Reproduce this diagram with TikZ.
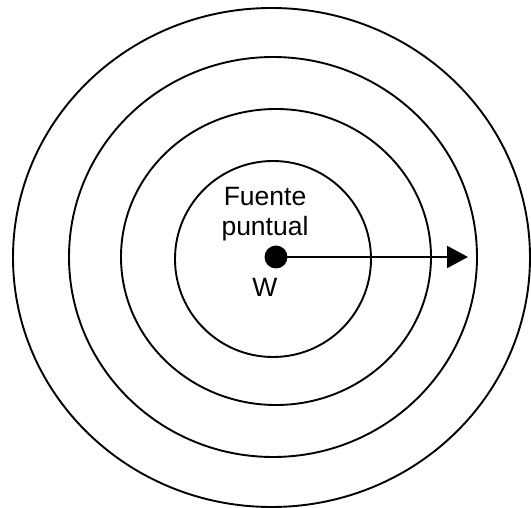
\documentclass[tikz,border=0pt]{standalone}
\usepackage{fontspec}
\setmainfont{Liberation Sans}
\usepackage{tikz}
\usetikzlibrary{arrows.meta}

\tikzset{
  wave/.style={line width=1.9pt},
  source/.style={circle,fill=black,inner sep=0pt,minimum size=23pt},
  lbl/.style={inner sep=0pt,align=center,font=\fontsize{26.5}{30}\selectfont},
  ray/.style={line width=2.1pt,-{Triangle[length=21pt,width=22pt]}}
}

\begin{document}
\begin{tikzpicture}[x=1pt,y=-1pt]

        % Frame
        \useasboundingbox (0,0) rectangle (531,508);

        % Wave fronts
        \foreach \cx/\cy/\rx/\ry in {273/259/98/98, 276/257/155/148, 273/257/204/200, 271.5/257.5/258.5/249.5}
            \draw[wave] (\cx,\cy) ellipse ({\rx pt} and {\ry pt});

        % Point source
        \node[source] (src) at (276,257) {};
        \coordinate (tip) at (468,257);

        % Labels
        \node[lbl,anchor=south] (fuente) at (265,241) {Fuente\\puntual};
        \node[lbl,anchor=base] (w) at (265,297) {W};

        % Ray
        \draw[ray] (src.center) -- (tip);

    \end{tikzpicture}
\end{document}
